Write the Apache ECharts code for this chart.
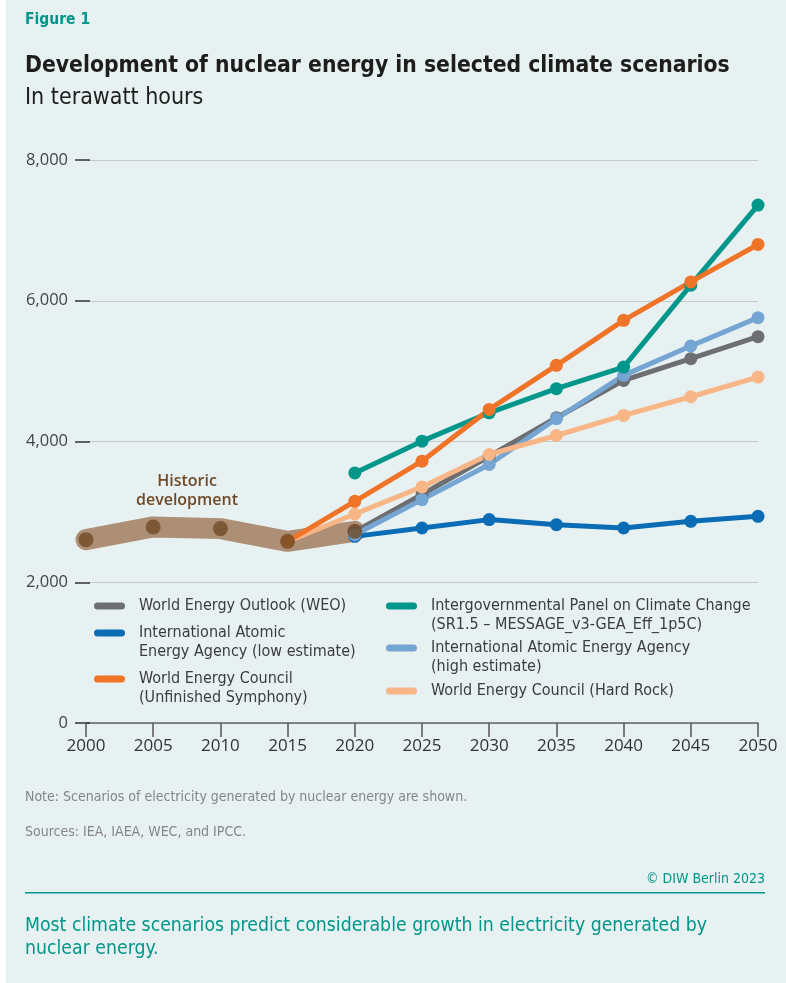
<!DOCTYPE html>
<html>
<head>
<meta charset="utf-8">
<script src="https://cdn.jsdelivr.net/npm/echarts@6/dist/echarts.min.js"></script>
<style>
html,body{margin:0;padding:0;background:#fff;}
#chart{width:786px;height:983px;}
</style>
</head>
<body>
<div id="chart"></div>
<script>
// ---- Data ----
const historicYears = [2000, 2005, 2010, 2015, 2020];
const historicValues = [2605, 2786, 2762, 2581, 2723];

const weoYears = [2020, 2025, 2030, 2035, 2040, 2045, 2050];
const weoValues = [2720, 3246, 3791, 4337, 4868, 5177, 5490];

const iaeaLowYears = [2020, 2025, 2030, 2035, 2040, 2045, 2050];
const iaeaLowValues = [2652, 2771, 2890, 2818, 2771, 2866, 2937];

const iaeaHighYears = [2020, 2025, 2030, 2035, 2040, 2045, 2050];
const iaeaHighValues = [2676, 3174, 3673, 4323, 4940, 5357, 5760];

const wecHardRockYears = [2015, 2020, 2025, 2030, 2035, 2040, 2045, 2050];
const wecHardRockValues = [2581, 2970, 3355, 3815, 4085, 4370, 4636, 4916];

const ipccYears = [2020, 2025, 2030, 2035, 2040, 2045, 2050];
const ipccValues = [3554, 4005, 4408, 4750, 5058, 6221, 7360];

const wecSymphonyYears = [2015, 2020, 2025, 2030, 2035, 2040, 2045, 2050];
const wecSymphonyValues = [2581, 3150, 3720, 4456, 5082, 5722, 6268, 6800];

const xTicks = [2000, 2005, 2010, 2015, 2020, 2025, 2030, 2035, 2040, 2045, 2050];
const yTicks = [0, 2000, 4000, 6000, 8000];

const legendItems = [
  {name: 'World Energy Outlook (WEO)', color: '#6d6e71'},
  {name: 'International Atomic\nEnergy Agency (low estimate)', color: '#0a6cb4'},
  {name: 'World Energy Council\n(Unfinished Symphony)', color: '#f07427'},
  {name: 'Intergovernmental Panel on Climate Change\n(SR1.5 – MESSAGE_v3-GEA_Eff_1p5C)', color: '#00968a'},
  {name: 'International Atomic Energy Agency\n(high estimate)', color: '#74a5d3'},
  {name: 'World Energy Council (Hard Rock)', color: '#f8b586'}
];

// ---- helpers ----
const zip = (xs, ys) => xs.map((x, i) => [x, ys[i]]);
const condensed = "'Liberation Sans Narrow', 'DejaVu Sans Condensed', 'Roboto', sans-serif";
const axisFont = "'Open Sans', 'Noto Sans', sans-serif";

function scen(name, color, xs, ys) {
  return {
    name: name, type: 'line', data: zip(xs, ys),
    symbol: 'circle', symbolSize: 13, showSymbol: true,
    itemStyle: {color: color},
    lineStyle: {color: color, width: 5, cap: 'round', join: 'round'},
    z: 3, animation: false
  };
}

const chart = echarts.init(document.getElementById('chart'), null, {renderer: 'canvas'});

// legend graphics
const legendPos = [
  {x: 94, y: 606}, {x: 94, y: 633}, {x: 94, y: 679},
  {x: 386, y: 606}, {x: 386, y: 648}, {x: 386, y: 691}
];
const legendGraphics = [];
legendItems.forEach((it, i) => {
  const p = legendPos[i];
  legendGraphics.push({
    type: 'rect', left: p.x, top: p.y - 3.5,
    shape: {width: 31, height: 7, r: 3.5},
    style: {fill: it.color}, silent: true
  });
  legendGraphics.push({
    type: 'text', left: p.x + 45, top: p.y - 10,
    style: {text: it.name, fill: '#3c3c3c', font: '16px ' + condensed, lineHeight: 19}
  });
});

const option = {
  backgroundColor: '#e8f1f2',
  animation: false,
  grid: {left: 86, right: 28, top: 160, bottom: 260, containLabel: false},
  xAxis: {
    type: 'value', min: 2000, max: 2050, interval: 5,
    axisLine: {show: true, lineStyle: {color: '#666', width: 1.5}},
    axisTick: {show: true, length: 14, lineStyle: {color: '#555', width: 1.5}},
    axisLabel: {color: '#333', fontSize: 17, fontFamily: axisFont, margin: 15,
      formatter: v => String(v)},
    splitLine: {show: false}
  },
  yAxis: {
    type: 'value', min: 0, max: 8000, interval: 2000, offset: -4,
    axisLine: {show: false},
    axisTick: {show: true, length: 15, lineStyle: {color: '#333', width: 1.5}},
    axisLabel: {color: '#444', fontSize: 16.5, fontFamily: axisFont, margin: 22,
      formatter: v => v.toLocaleString('en-US')},
    splitLine: {show: true, lineStyle: {color: '#c6c8c9', width: 1.2}}
  },
  series: [
    {
      name: 'Historic band', type: 'line', data: zip(historicYears, historicValues),
      symbol: 'none', lineStyle: {color: '#ad8f76', width: 21, cap: 'round', join: 'round'},
      z: 2, silent: true
    },
    scen('International Atomic Energy Agency (low estimate)', '#0a6cb4', iaeaLowYears, iaeaLowValues),
    scen('World Energy Outlook (WEO)', '#6d6e71', weoYears, weoValues),
    scen('International Atomic Energy Agency (high estimate)', '#74a5d3', iaeaHighYears, iaeaHighValues),
    scen('World Energy Council (Hard Rock)', '#f8b586', wecHardRockYears, wecHardRockValues),
    scen('Intergovernmental Panel on Climate Change', '#00968a', ipccYears, ipccValues),
    scen('World Energy Council (Unfinished Symphony)', '#f07427', wecSymphonyYears, wecSymphonyValues),
    {
      name: 'Historic development', type: 'scatter', data: zip(historicYears, historicValues),
      symbol: 'circle', symbolSize: 15, itemStyle: {color: '#6f4a27'}, z: 5
    }
  ],
  graphic: [
    {type: 'rect', left: 0, top: 0, shape: {width: 6, height: 983}, style: {fill: '#ffffff'}, silent: true},
    {type: 'text', left: 25, top: 12, style: {text: 'Figure 1', fill: '#00968a', font: '600 15.5px ' + condensed}},
    {type: 'text', left: 25, top: 55, style: {text: 'Development of nuclear energy in selected climate scenarios', fill: '#1d1d1b', font: 'bold 22.7px ' + condensed}},
    {type: 'text', left: 25, top: 87, style: {text: 'In terawatt hours', fill: '#1d1d1b', font: '23px ' + condensed}},
    {type: 'text', x: 187, y: 472, style: {text: 'Historic\ndevelopment', fill: '#6f4a27', font: '600 16px ' + axisFont, textAlign: 'center', lineHeight: 19}},
    ...legendGraphics,
    {type: 'text', left: 25, top: 790, style: {text: 'Note: Scenarios of electricity generated by nuclear energy are shown.', fill: '#868686', font: '14px ' + condensed}},
    {type: 'text', left: 25, top: 825, style: {text: 'Sources: IEA, IAEA, WEC, and IPCC.', fill: '#868686', font: '14px ' + condensed}},
    {type: 'text', right: 21, top: 872, style: {text: '© DIW Berlin 2023', fill: '#00968a', font: '14px ' + condensed}},
    {type: 'rect', left: 25, top: 892, shape: {width: 740, height: 1.5}, style: {fill: '#00968a'}, silent: true},
    {type: 'text', left: 25, top: 914, style: {text: 'Most climate scenarios predict considerable growth in electricity generated by\nnuclear energy.', fill: '#00968a', font: '19.3px ' + condensed, lineHeight: 23}}
  ]
};
chart.setOption(option);
</script>
</body>
</html>
